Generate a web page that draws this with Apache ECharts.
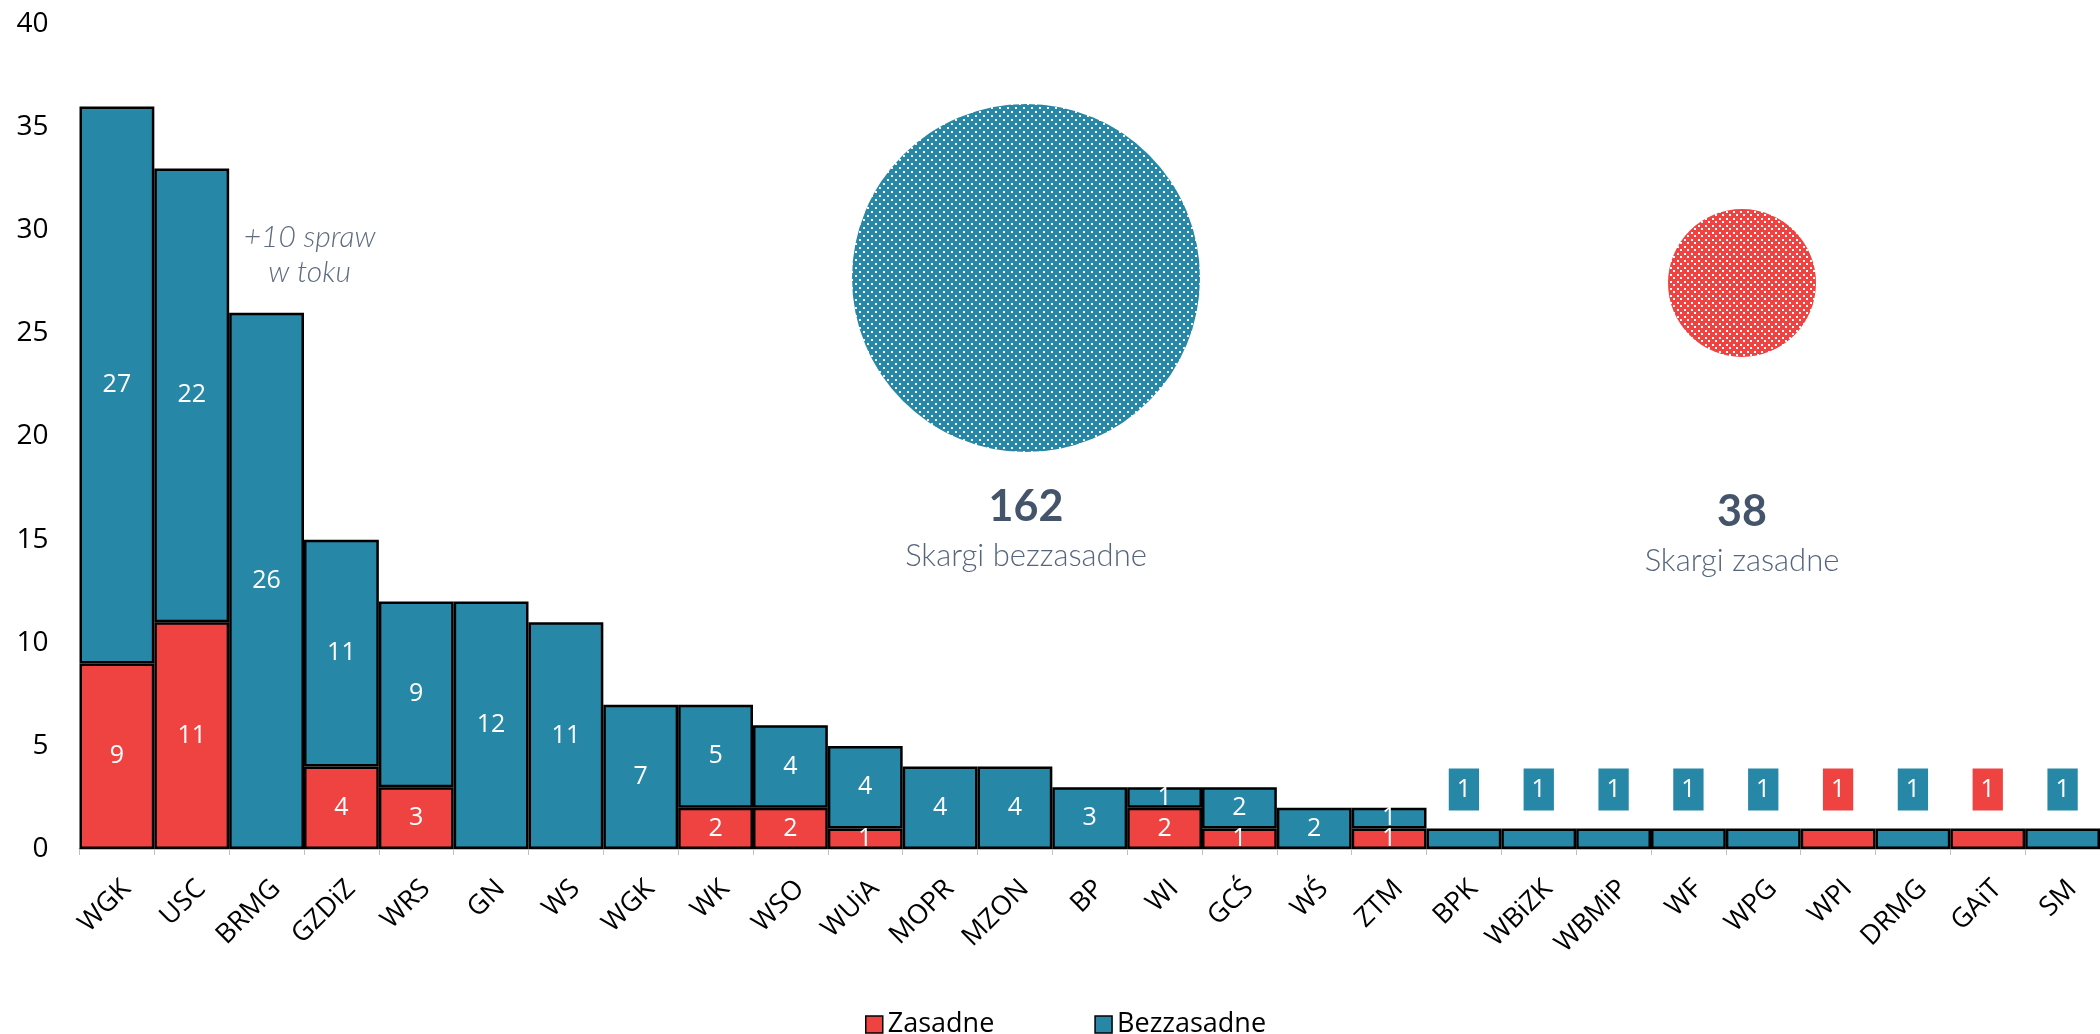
<!DOCTYPE html>
<html>
<head>
<meta charset="utf-8">
<script src="https://cdn.jsdelivr.net/npm/echarts@6/dist/echarts.min.js"></script>
<style>
html,body{margin:0;padding:0;background:#fff;}
#chart{width:2100px;height:1034px;}
</style>
</head>
<body>
<div id="chart"></div>
<script>
// ---- data ----
const categories = ['WGK','USC','BRMG','GZDiZ','WRS','GN','WS','WGK','WK','WSO','WUiA','MOPR','MZON','BP','WI','GCŚ','WŚ','ZTM','BPK','WBiZK','WBMiP','WF','WPG','WPI','DRMG','GAiT','SM'];
const zasadne     = [9,11,0,4,3,0,0,0,2,2,1,0,0,0,2,1,0,1,0,0,0,0,0,1,0,1,0];
const bezzasadne  = [27,22,26,11,9,12,11,7,5,4,4,4,4,3,1,2,2,1,1,1,1,1,1,0,1,0,1];
const yTicks = {min: 0, max: 40, interval: 5};
const seriesNames = ['Zasadne', 'Bezzasadne'];
const bubbleLabels = ['Skargi bezzasadne', 'Skargi zasadne'];
const annotation = {categoryIndex: 2, value: 26, text: '+10 spraw\nw toku'};

// ---- styles ----
const RED = '#EF4342';
const TEAL = '#2787A7';
const bubbleDiameters = [348, 148];
const bubbleOffsets = [[0, 0], [0, 5]];

const totalB = bezzasadne.reduce((a, b) => a + b, 0);
const totalZ = zasadne.reduce((a, b) => a + b, 0);
const totals = zasadne.map((v, i) => v + bezzasadne[i]);

// dot pattern; compensates for the symbol's internal scale (symbol path is 2x2 scaled by size/2)
function dotPattern(color, w, h, diameter) {
  const c = document.createElement('canvas');
  c.width = w; c.height = h;
  const ctx = c.getContext('2d');
  ctx.fillStyle = color;
  ctx.fillRect(0, 0, w, h);
  ctx.fillStyle = '#ffffff';
  ctx.fillRect(1, 1, 2, 2);
  ctx.fillRect(1 + Math.round(w / 2), 1 + Math.round(h / 2), 2, 2);
  const s = 2 / diameter;
  return {image: c, repeat: 'repeat', scaleX: s, scaleY: s};
}

function boxLabel(color) {
  return {
    show: true, position: 'top', distance: 18,
    backgroundColor: color, padding: [8, 8, 8, 8],
    color: '#fff', fontSize: 25, lineHeight: 26, fontFamily: 'Open Sans'
  };
}

function buildData(arr, color) {
  return arr.map((v, i) => {
    if (!v) return '-';
    if (totals[i] === 1) return {value: v, label: boxLabel(color)};
    return v;
  });
}

const chart = echarts.init(document.getElementById('chart'), null, {renderer: 'canvas'});

const innerLabel = {show: true, position: 'inside', color: '#fff', fontSize: 25, fontFamily: 'Open Sans'};

const option = {
  animation: false,
  backgroundColor: '#ffffff',
  textStyle: {fontFamily: 'Open Sans'},
  grid: [
    {left: 79.5, right: -16, top: 24, bottom: 185, containLabel: false},
    {left: 668, right: -2, top: 104, height: 348}
  ],
  xAxis: [
    {
      type: 'category', gridIndex: 0, data: categories,
      axisLine: {show: true, lineStyle: {color: '#BFBFBF', width: 2}},
      axisTick: {show: true, alignWithLabel: false, length: 6, lineStyle: {color: '#BFBFBF', width: 1}},
      axisLabel: {interval: 0, rotate: 45, fontSize: 27, color: '#000', margin: 26, verticalAlign: 'top', fontFamily: 'Open Sans'}
    },
    {type: 'category', gridIndex: 1, data: bubbleLabels, show: false}
  ],
  yAxis: [
    {
      type: 'value', gridIndex: 0, min: yTicks.min, max: yTicks.max, interval: yTicks.interval,
      axisLine: {show: false}, axisTick: {show: false}, splitLine: {show: false},
      axisLabel: {fontSize: 28, color: '#000', margin: 31, fontFamily: 'Open Sans'}
    },
    {type: 'category', gridIndex: 1, data: [''], show: false}
  ],
  legend: {
    data: seriesNames,
    left: 860, top: 1006,
    icon: 'rect', itemWidth: 17, itemHeight: 17, itemGap: 100,
    itemStyle: {borderColor: '#000', borderWidth: 1.5},
    textStyle: {fontSize: 27, color: '#000', fontFamily: 'Open Sans'}
  },
  series: [
    {
      name: seriesNames[0], type: 'bar', stack: 'all', xAxisIndex: 0, yAxisIndex: 0,
      barCategoryGap: '0%',
      data: buildData(zasadne, RED),
      itemStyle: {color: RED, borderColor: '#000', borderWidth: 2.5},
      label: innerLabel
    },
    {
      name: seriesNames[1], type: 'bar', stack: 'all', xAxisIndex: 0, yAxisIndex: 0,
      barCategoryGap: '0%',
      data: buildData(bezzasadne, TEAL),
      itemStyle: {color: TEAL, borderColor: '#000', borderWidth: 2.5},
      label: innerLabel,
      markPoint: {
        symbol: 'circle', symbolSize: 0, silent: true,
        data: [{
          coord: [annotation.categoryIndex, annotation.value],
          label: {
            show: true, position: 'inside', offset: [43, -58],
            formatter: annotation.text,
            fontFamily: 'Lato', fontStyle: 'italic', fontWeight: 300,
            fontSize: 30, lineHeight: 35, color: '#5E6B80', align: 'center'
          }
        }]
      }
    },
    {
      type: 'scatter', xAxisIndex: 1, yAxisIndex: 1, silent: true,
      data: [totalB, totalZ].map((t, i) => ({
        value: [i, 0, t],
        symbolSize: bubbleDiameters[i],
        symbolOffset: bubbleOffsets[i],
        itemStyle: {
          opacity: 1,
          color: i === 0 ? dotPattern(TEAL, 8, 8, bubbleDiameters[i]) : dotPattern(RED, 7, 7, bubbleDiameters[i])
        }
      })),
      symbol: 'circle',
      itemStyle: {opacity: 1},
      label: {
        show: true, position: 'inside', offset: [0, 252],
        formatter: p => '{num|' + p.value[2] + '}\n{txt|' + bubbleLabels[p.dataIndex] + '}',
        rich: {
          num: {fontFamily: 'Lato', fontWeight: 'bold', fontSize: 43, lineHeight: 52, color: '#44546A', align: 'center'},
          txt: {fontFamily: 'Lato', fontWeight: 300, fontSize: 31, lineHeight: 46, color: '#56657D', align: 'center'}
        }
      }
    }
  ]
};

chart.setOption(option);
</script>
</body>
</html>
